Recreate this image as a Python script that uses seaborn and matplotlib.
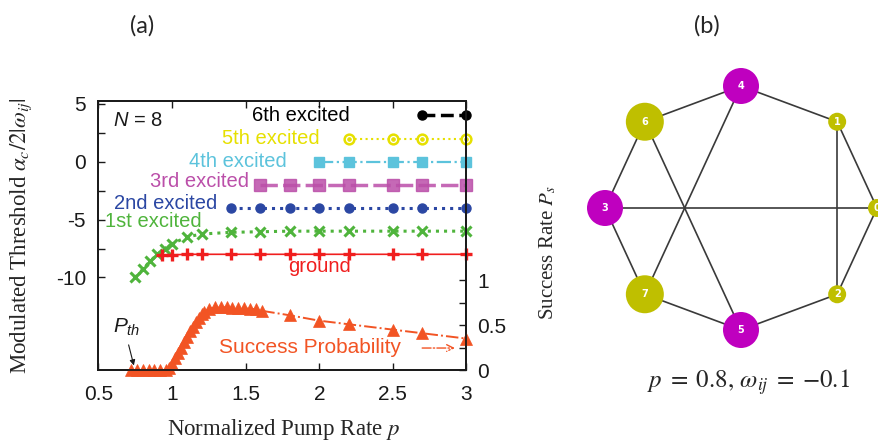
import matplotlib
matplotlib.use("Agg")
import numpy as np
import pandas as pd
import matplotlib.pyplot as plt
from matplotlib.ticker import FuncFormatter
import seaborn as sns

# ---------------- panel (a): thresholds of each branch ----------------
p_ground = [0.93, 1.0, 1.1, 1.2, 1.4, 1.6, 1.8, 2.0, 2.2, 2.5, 2.7, 3.0]
thr_ground = [-8.1, -8.05, -8.0, -8.0, -8.0, -8.0, -8.0, -8.0, -8.0, -8.0, -8.0, -8.0]

p_first = [0.75, 0.8, 0.85, 0.9, 0.95, 1.0, 1.1, 1.2, 1.4, 1.6, 1.8, 2.0, 2.2, 2.5, 2.7, 3.0]
thr_first = [-10.0, -9.3, -8.6, -8.0, -7.5, -7.1, -6.5, -6.25, -6.1, -6.05, -6.0, -6.0,
             -6.0, -6.0, -6.0, -6.0]

p_second = [1.4, 1.6, 1.8, 2.0, 2.2, 2.5, 2.7, 3.0]
thr_second = [-4.0, -4.0, -4.0, -4.0, -4.0, -4.0, -4.0, -4.0]

p_third = [1.6, 1.8, 2.0, 2.2, 2.5, 2.7, 3.0]
thr_third = [-2.0, -2.0, -2.0, -2.0, -2.0, -2.0, -2.0]

p_fourth = [2.0, 2.2, 2.5, 2.7, 3.0]
thr_fourth = [0.0, 0.0, 0.0, 0.0, 0.0]

p_fifth = [2.2, 2.5, 2.7, 3.0]
thr_fifth = [2.0, 2.0, 2.0, 2.0]

p_sixth = [2.7, 3.0]
thr_sixth = [4.0, 4.0]

# success probability (right axis)
p_success = [0.72, 0.76, 0.80, 0.84, 0.88, 0.92, 0.96, 0.98, 1.00, 1.02, 1.04, 1.06,
             1.08, 1.10, 1.12, 1.14, 1.16, 1.18, 1.20, 1.22, 1.25, 1.29, 1.33, 1.37,
             1.41, 1.45, 1.49, 1.53, 1.57, 1.61, 1.8, 2.0, 2.2, 2.5, 2.7, 3.0]
prob_success = [0.0, 0.0, 0.0, 0.0, 0.0, 0.0, 0.0, 0.02, 0.07, 0.13, 0.19, 0.25,
                0.31, 0.37, 0.43, 0.48, 0.53, 0.58, 0.62, 0.65, 0.68, 0.70, 0.70, 0.70,
                0.69, 0.69, 0.69, 0.68, 0.68, 0.66, 0.61, 0.55, 0.51, 0.45, 0.41, 0.35]

x_ticks = [0.5, 1.0, 1.5, 2.0, 2.5, 3.0]
left_ticks = [-10, -5, 0, 5]
left_minor = [-7.5, -2.5, 2.5]
right_ticks = [0, 0.5, 1]
right_minor = [0.25, 0.75]

# ---------------- panel (b): coupling graph ----------------
ring_order = [0, 1, 4, 6, 3, 7, 5, 2]          # nodes placed counter-clockwise from the right
node_color = {0: "olive", 1: "olive", 2: "olive", 3: "magenta", 4: "magenta",
              5: "magenta", 6: "olive", 7: "olive"}
node_size = {0: 168, 1: 168, 2: 168, 3: 672, 4: 672, 5: 672, 6: 748, 7: 748}
edges = [(0, 1), (1, 4), (4, 6), (6, 3), (3, 7), (7, 5), (5, 2), (2, 0),
         (3, 0), (1, 2), (4, 7), (6, 5)]

# ---------------- style ----------------
sns.set_theme(style="white")
plt.rcParams["font.family"] = ["Liberation Sans", "DejaVu Sans"]
plt.rcParams["mathtext.fontset"] = "custom"
plt.rcParams["mathtext.it"] = "Liberation Sans:italic"
plt.rcParams["mathtext.rm"] = "Liberation Sans"
plt.rcParams["axes.unicode_minus"] = False

C_GROUND = "#f01e1e"
C_FIRST = "#4fb43c"
C_SECOND = "#2b47a3"
C_THIRD = "#bb4fa9"
C_FOURTH = "#5cc3dc"
C_FIFTH = "#e6e000"
C_SIXTH = "#000000"
C_SUCC = "#f25424"
NODE_PALETTE = {"olive": "#bfbf00", "magenta": "#bf00bf"}

W, H = 879, 444
fig = plt.figure(figsize=(W / 100, H / 100), dpi=100)


def axes_px(left, top, right, bottom):
    return fig.add_axes([left / W, 1 - bottom / H, (right - left) / W, (bottom - top) / H])


ax = axes_px(98.5, 101, 466.5, 370)
ax2 = ax.twinx()

series = [
    (p_first, thr_first, C_FIRST, dict(marker="x", ms=7, mew=2.2, linestyle=":", lw=2.2)),
    (p_ground, thr_ground, C_GROUND, dict(marker="+", ms=8, mew=2.4, linestyle="-", lw=1.2)),
    (p_second, thr_second, C_SECOND, dict(marker="o", ms=6.5, mew=1, linestyle=":", lw=2.2)),
    (p_third, thr_third, C_THIRD, dict(marker="s", ms=8, mew=1, linestyle=(0, (5, 1.5)),
                                       lw=2.5, alpha=0.85)),
    (p_fourth, thr_fourth, C_FOURTH, dict(marker="s", ms=7.5, mew=1, linestyle="-.", lw=1.6)),
    (p_fifth, thr_fifth, C_FIFTH, dict(marker="o", ms=7, mew=1.8, mfc="none", linestyle=":",
                                       lw=1.5)),
    (p_sixth, thr_sixth, C_SIXTH, dict(marker="o", ms=6.5, mew=1, linestyle="--", lw=2.5)),
]
for xs, ys, col, kw in series:
    sns.lineplot(x=xs, y=ys, ax=ax, color=col, mec=col, clip_on=False, **kw)
# inner dot of the open yellow circles
sns.lineplot(x=p_fifth, y=thr_fifth, ax=ax, color=C_FIFTH, mec=C_FIFTH, marker="o", ms=2.5,
             linestyle="none", clip_on=False)

sns.lineplot(x=p_success, y=prob_success, ax=ax2, color=C_SUCC, mec=C_SUCC, marker="^",
             ms=8.5, mew=0.5, linestyle="-.", lw=1.4, clip_on=False)

ax.set_xlim(0.5, 3.0)
ax.set_ylim(-18, 5.25)
ax2.set_ylim(0, 3)

ax.set_xticks(x_ticks)
ax.xaxis.set_major_formatter(FuncFormatter(lambda v, _: f"{v:g}"))
ax.set_yticks(left_ticks)
ax.set_yticks(left_minor, minor=True)
ax2.set_yticks(right_ticks)
ax2.set_yticks(right_minor, minor=True)
ax2.yaxis.set_major_formatter(FuncFormatter(lambda v, _: f"{v:g}"))

ax.tick_params(axis="x", which="both", direction="in", top=True, bottom=True, length=5,
               width=1, labelsize=15, pad=11, colors="k")
ax.tick_params(axis="y", which="both", direction="in", left=True, right=False, length=5,
               width=1, labelsize=15, pad=9, colors="k")
ax2.tick_params(axis="y", which="both", direction="in", right=True, length=5, width=1,
                labelsize=15, pad=8, colors="k")
for a in (ax, ax2):
    for s in a.spines.values():
        s.set_color("k")
        s.set_linewidth(1.3)
ax.set_xlabel("")
ax.set_ylabel("")
ax2.set_ylabel("")

# branch names
lab_kw = dict(fontsize=14.5, va="center")
ax.text(2.21, 4.0, "6th excited", color=C_SIXTH, ha="right", **lab_kw)
ax.text(2.0, 2.0, "5th excited", color=C_FIFTH, ha="right", **lab_kw)
ax.text(1.78, 0.0, "4th excited", color=C_FOURTH, ha="right", **lab_kw)
ax.text(1.52, -1.7, "3rd excited", color=C_THIRD, ha="right", **lab_kw)
ax.text(1.31, -3.6, "2nd excited", color=C_SECOND, ha="right", **lab_kw)
ax.text(1.2, -5.2, "1st excited", color=C_FIRST, ha="right", **lab_kw)
ax.text(2.0, -9.05, "ground", color=C_GROUND, ha="center", **lab_kw)
ax.text(0.597, 3.6, r"$N$ = 8", color="k", ha="left", math_fontfamily="custom", **lab_kw)

ax2.text(1.94, 0.25, "Success Probability", color=C_SUCC, ha="center", va="center",
         fontsize=15)
ax2.annotate("", xy=(2.94, 0.245), xytext=(2.68, 0.245),
             arrowprops=dict(arrowstyle="->", linestyle="-.", color=C_SUCC, lw=1.0))
ax2.text(0.597, 0.48, r"$P_{th}$", color="k", ha="left", va="center", fontsize=15,
         math_fontfamily="custom")
ax2.annotate("", xy=(0.745, 0.02), xytext=(0.70, 0.31),
             arrowprops=dict(arrowstyle="-|>", color="k", lw=0.8, mutation_scale=8))

serif = ["Liberation Serif", "DejaVu Serif"]
fig.text(284 / W, 1 - 429 / H, r"Normalized Pump Rate $p$", ha="center", va="center",
         fontsize=16.5, family=serif, math_fontfamily="stix")
fig.text(21 / W, 1 - 236 / H, r"Modulated Threshold $\alpha_c/2|\omega_{ij}|$",
         rotation=90, ha="center", va="center", fontsize=16.5, family=serif,
         math_fontfamily="stix")
fig.text(548 / W, 1 - 253 / H, r"Success Rate $P_s$", rotation=90, ha="center",
         va="center", fontsize=15, family=serif, math_fontfamily="stix")

fig.text(142 / W, 1 - 26 / H, "(a)", ha="center", va="center", fontsize=17,
         family=["Lato", "DejaVu Sans"])
fig.text(707 / W, 1 - 26 / H, "(b)", ha="center", va="center", fontsize=17,
         family=["Lato", "DejaVu Sans"])

# ---------------- panel (b) ----------------
cx, cy, rx, ry = 741, 208, 136, 122
axg = axes_px(cx - 1.2 * rx, cy - 1.2 * ry, cx + 1.2 * rx, cy + 1.2 * ry)
axg.set_xlim(-1.2, 1.2)
axg.set_ylim(-1.2, 1.2)
axg.axis("off")

angles = 2 * np.pi * np.arange(len(ring_order)) / len(ring_order)
pos = {n: (np.cos(a), np.sin(a)) for n, a in zip(ring_order, angles)}
for u, v in edges:
    axg.plot([pos[u][0], pos[v][0]], [pos[u][1], pos[v][1]], color="#3a3a3a", lw=1.2,
             zorder=1, clip_on=False)

nodes = pd.DataFrame({
    "node": ring_order,
    "x": [pos[n][0] for n in ring_order],
    "y": [pos[n][1] for n in ring_order],
    "color": [node_color[n] for n in ring_order],
    "size": [node_size[n] for n in ring_order],
})
sns.scatterplot(data=nodes, x="x", y="y", hue="color", palette=NODE_PALETTE,
                size="size", sizes=(nodes["size"].min(), nodes["size"].max()),
                linewidth=0, legend=False, ax=axg, zorder=2, clip_on=False)
for _, r in nodes.iterrows():
    axg.text(r["x"], r["y"], str(r["node"]), color="white", fontsize=7, fontweight="bold",
             ha="center", va="center", family=["DejaVu Sans"], zorder=3)
axg.set_xlabel("")
axg.set_ylabel("")

fig.text(749 / W, 1 - 382 / H, r"$p\;=\;0.8,\,\omega_{ij}\;=\;{-}0.1$", ha="center",
         va="center", fontsize=18, math_fontfamily="stix")

fig.savefig("out.png", dpi=100)
